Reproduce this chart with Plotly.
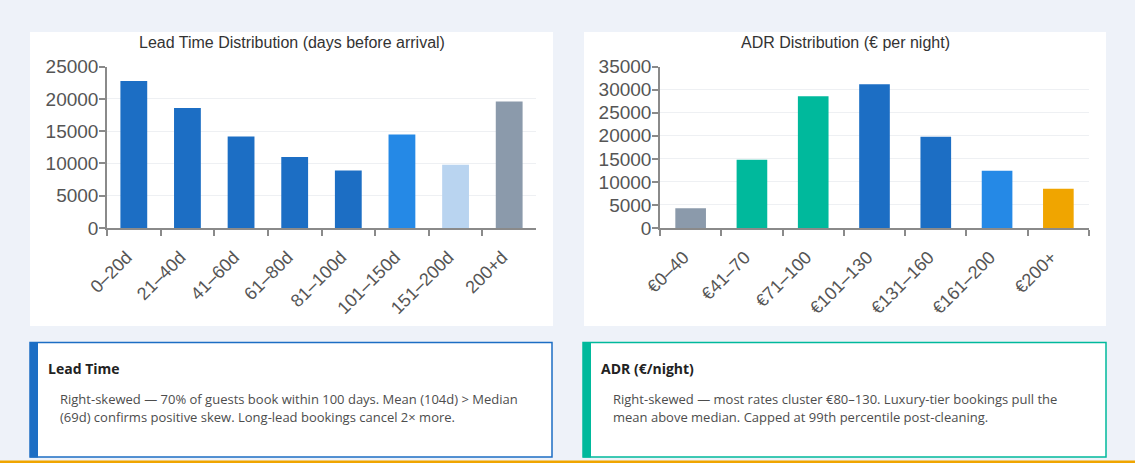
import plotly.graph_objects as go

# ---------------- data ----------------
lead_categories = ["0–20d", "21–40d", "41–60d", "61–80d", "81–100d", "101–150d", "151–200d", "200+d"]
lead_values = [22800, 18600, 14200, 11000, 8900, 14500, 9800, 19600]
lead_colors = ["#1c6ec4", "#1c6ec4", "#1c6ec4", "#1c6ec4", "#1c6ec4", "#2589e6", "#b9d4f0", "#8b9aab"]

adr_categories = ["€0–40", "€41–70", "€71–100", "€101–130", "€131–160", "€161–200", "€200+"]
adr_values = [4300, 14800, 28600, 31200, 19800, 12400, 8500]
adr_colors = ["#8b9aab", "#00b99c", "#00b99c", "#1c6ec4", "#1c6ec4", "#2589e6", "#f0a500"]

lead_title = "Lead Time Distribution (days before arrival)"
adr_title = "ADR Distribution (€ per night)"

lead_box_title = "Lead Time"
lead_box_lines = [
    "Right-skewed — 70% of guests book within 100 days. Mean (104d) > Median",
    "(69d) confirms positive skew. Long-lead bookings cancel 2× more.",
]
adr_box_title = "ADR (€/night)"
adr_box_lines = [
    "Right-skewed — most rates cluster €80–130. Luxury-tier bookings pull the",
    "mean above median. Capped at 99th percentile post-cleaning.",
]

# ---------------- geometry helpers ----------------
W, H = 1135, 463
def px(x):
    return x / W
def py(y):
    return 1 - y / H

BG = "#eef2f9"
CHART_FONT = "Liberation Sans, Arial, sans-serif"
BOX_FONT = "Open Sans, Noto Sans, sans-serif"

fig = go.Figure()
fig.add_trace(go.Bar(x=lead_categories, y=lead_values, marker=dict(color=lead_colors, line=dict(width=0)),
                     xaxis="x", yaxis="y", showlegend=False, hoverinfo="x+y"))
fig.add_trace(go.Bar(x=adr_categories, y=adr_values, marker=dict(color=adr_colors, line=dict(width=0)),
                     xaxis="x2", yaxis="y2", showlegend=False, hoverinfo="x+y"))

axis_common_x = dict(
    type="category", showline=True, linecolor="#8a8a8a", linewidth=1.5,
    ticks="outside", tickson="boundaries", ticklen=6, tickcolor="#8a8a8a", tickwidth=1.5,
    tickangle=-45, tickfont=dict(family=CHART_FONT, size=18, color="#555"),
    ticklabelshift=-7, ticklabelstandoff=10,
    showgrid=False, zeroline=False, fixedrange=True, automargin=False,
)
axis_common_y = dict(
    showline=True, linecolor="#8a8a8a", linewidth=1.5,
    ticks="outside", ticklen=6, tickcolor="#8a8a8a", tickwidth=1.5,
    tickfont=dict(family=CHART_FONT, size=19, color="#555"),
    ticklabelstandoff=-3,
    showgrid=True, gridcolor="#eef0f3", gridwidth=1, zeroline=False, fixedrange=True,
    dtick=5000, tickformat="d", automargin=False,
)

fig.update_layout(
    width=W, height=H, margin=dict(l=0, r=0, t=0, b=0, pad=0, autoexpand=False),
    paper_bgcolor=BG, plot_bgcolor="white",
    bargap=0.5,
    xaxis=dict(axis_common_x, domain=[px(107), px(536)], anchor="y"),
    yaxis=dict(axis_common_y, domain=[py(228), py(66.7)], range=[0, 25000], anchor="x"),
    xaxis2=dict(axis_common_x, domain=[px(660), px(1089)], anchor="y2"),
    yaxis2=dict(axis_common_y, domain=[py(228), py(66.7)], range=[0, 35000], anchor="x2"),
)

shapes = []
# white chart panels
for x0, x1 in [(30, 553), (584, 1106)]:
    shapes.append(dict(type="rect", xref="paper", yref="paper", x0=px(x0), x1=px(x1), y0=py(326), y1=py(32),
                       fillcolor="white", line=dict(width=0), layer="below"))
# insight boxes
for x0, x1, col in [(30, 552, "#1c6ec4"), (583, 1106, "#00b99c")]:
    shapes.append(dict(type="rect", xref="paper", yref="paper", x0=px(x0), x1=px(x1), y0=py(457), y1=py(342.5),
                       fillcolor="white", line=dict(color=col, width=1.5), layer="below"))
    shapes.append(dict(type="rect", xref="paper", yref="paper", x0=px(x0), x1=px(x0 + 8), y0=py(457.5), y1=py(342),
                       fillcolor=col, line=dict(width=0), layer="below"))
# bottom orange strip
shapes.append(dict(type="rect", xref="paper", yref="paper", x0=0, x1=1, y0=0, y1=py(460.5),
                   fillcolor="#f0a500", line=dict(width=0), layer="below"))

annotations = []
# chart titles
annotations.append(dict(text=lead_title, xref="paper", yref="paper", x=px(291.5), y=py(43), xanchor="center",
                        yanchor="middle", showarrow=False, font=dict(family=CHART_FONT, size=16, color="#333")))
annotations.append(dict(text=adr_title, xref="paper", yref="paper", x=px(845), y=py(43), xanchor="center",
                        yanchor="middle", showarrow=False, font=dict(family=CHART_FONT, size=16, color="#333")))

def add_box_text(title, lines, x_title, x_body):
    annotations.append(dict(text="<b>" + title + "</b>", xref="paper", yref="paper", x=px(x_title), y=py(368),
                            xanchor="left", yanchor="middle", showarrow=False,
                            font=dict(family=BOX_FONT, size=14, color="#222")))
    for i, ln in enumerate(lines):
        annotations.append(dict(text=ln, xref="paper", yref="paper", x=px(x_body), y=py(399 + 18 * i),
                                xanchor="left", yanchor="middle", showarrow=False,
                                font=dict(family=BOX_FONT, size=13, color="#4d4d4d")))

add_box_text(lead_box_title, lead_box_lines, 46, 58)
add_box_text(adr_box_title, adr_box_lines, 599, 611)

fig.update_layout(shapes=shapes, annotations=annotations)

fig.write_html("out.html", config={"displayModeBar": False},
               post_script="document.body.style.margin='0';document.body.style.overflow='hidden';")
